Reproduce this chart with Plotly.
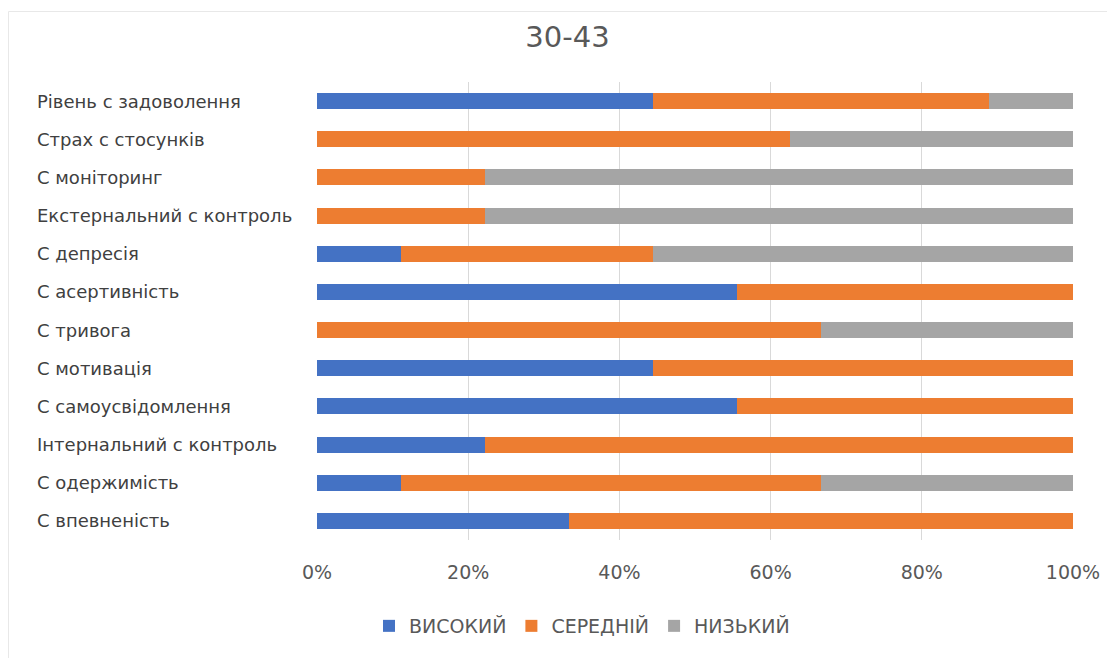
import plotly.graph_objects as go

categories = [
    "Рівень с задоволення",
    "Страх с стосунків",
    "С моніторинг",
    "Екстернальний с контроль",
    "С депресія",
    "С асертивність",
    "С тривога",
    "С мотивація",
    "С самоусвідомлення",
    "Інтернальний с контроль",
    "С одержимість",
    "С впевненість",
]
# counts of respondents per level (share of total shown as %)
high = [4, 0, 0, 0, 1, 5, 0, 4, 5, 2, 1, 3]
medium = [4, 5, 2, 2, 3, 4, 6, 5, 4, 7, 5, 6]
low = [1, 3, 7, 7, 5, 0, 3, 0, 0, 0, 3, 0]
series_names = ["ВИСОКИЙ", "СЕРЕДНІЙ", "НИЗЬКИЙ"]
x_ticks = [0, 20, 40, 60, 80, 100]
x_tick_labels = ["0%", "20%", "40%", "60%", "80%", "100%"]
colors = ["#4472C4", "#ED7D31", "#A5A5A5"]

fig = go.Figure()
for name, vals, col in zip(series_names, [high, medium, low], colors):
    fig.add_trace(go.Bar(
        y=categories, x=vals, name=name, orientation="h",
        marker=dict(color=col, line=dict(width=0)),
    ))

font_family = "DejaVu Sans, sans-serif"
W, H = 1115, 658
OFF = 8  # page body offset
L, T = 317 - OFF, 82 - OFF
PW, PH = 756, 458
R = W - L - PW
B = H - T - PH
fig.update_layout(
    barmode="stack",
    barnorm="percent",
    bargap=0.58,
    width=W, height=H,
    paper_bgcolor="white", plot_bgcolor="white",
    margin=dict(l=L, r=R, t=T, b=B, autoexpand=False),
    font=dict(family=font_family, color="#595959", size=18),
    title=dict(text="30-43", x=(567.5 - OFF) / W, xanchor="center",
               y=1 - (37 - OFF) / H, yanchor="middle",
               font=dict(size=29, color="#595959", family=font_family)),
    xaxis=dict(range=[0, 100], tickvals=x_ticks, ticktext=x_tick_labels,
               showgrid=True, gridcolor="#D9D9D9", gridwidth=1,
               zeroline=False, showline=False, ticks="", automargin=False,
               tickfont=dict(size=19, color="#595959"), ticklabelstandoff=19),
    yaxis=dict(autorange="reversed", showgrid=False, ticks="",
               showticklabels=False, automargin=False),
    legend=dict(orientation="h", x=(582 - 317) / PW, xanchor="center",
                y=-(626 - 540) / PH, yanchor="middle",
                font=dict(size=19, color="#595959"), traceorder="normal",
                itemwidth=30),
    showlegend=True,
)
for cat in categories:
    fig.add_annotation(x=-(317 - 35) / PW, xref="paper", y=cat, yref="y",
                       text=cat, showarrow=False, xanchor="left", yanchor="middle",
                       font=dict(size=18, color="#404040", family=font_family))
fig.add_shape(type="rect", xref="paper", yref="paper",
              x0=(0.5 - L) / PW, x1=1 + 200 / PW, y0=-300 / PH, y1=1 + (T - 3.5) / PH,
              line=dict(color="#E8E8E8", width=1), layer="below")
fig.write_html("out.html")
